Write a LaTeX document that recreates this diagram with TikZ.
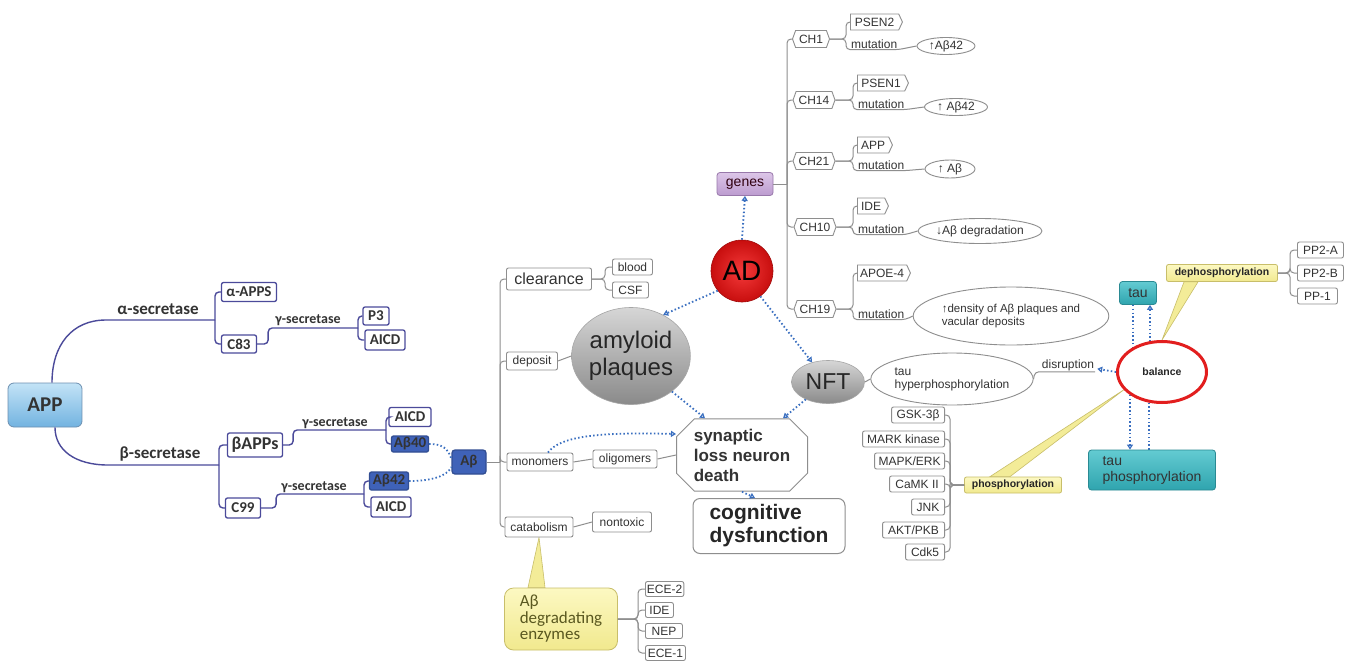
\documentclass[tikz,border=0pt]{standalone}
\usepackage{fontspec}
\setmainfont{Liberation Sans}
\newfontfamily\calfont{Carlito}
\usetikzlibrary{shapes.geometric,shapes.misc,shapes.symbols,arrows.meta,calc}
\pgfdeclarelayer{bg}
\pgfsetlayers{bg,main}
\definecolor{lnblue}{HTML}{4B4A9A}
\definecolor{boxblue}{HTML}{3F62B8}
\definecolor{dotblue}{HTML}{3A6FC0}
\definecolor{grline}{HTML}{8E8E8E}
\definecolor{txt}{HTML}{333333}
\definecolor{tealT}{HTML}{63CBD2}
\definecolor{tealB}{HTML}{2FA4AE}
\definecolor{tealD}{HTML}{2A8A93}
\definecolor{yelT}{HTML}{FCF8C2}
\definecolor{yelB}{HTML}{F1E98E}
\definecolor{yelD}{HTML}{C8BE6A}
\definecolor{purT}{HTML}{DCC6E8}
\definecolor{purB}{HTML}{BC9BCF}
\definecolor{purD}{HTML}{9878AA}
\definecolor{appT}{HTML}{C3E3F6}
\definecolor{appB}{HTML}{72B3E0}
\definecolor{appD}{HTML}{6C8FB0}
\definecolor{grT}{HTML}{D6D6D6}
\definecolor{grB}{HTML}{8A8A8A}
\definecolor{adI}{HTML}{F43A3A}
\definecolor{adO}{HTML}{C80E0E}
\definecolor{balred}{HTML}{E21E1E}
\definecolor{olivetxt}{HTML}{5A5820}
\newcommand\myfs[1]{\fontsize{#1}{#1}\selectfont}
\newcommand\mmR[3]{\draw[#1] (#2.east) -| ([xshift=-7pt]#3.west) -- (#3.west);}
\newcommand\mmL[3]{\draw[#1] (#2.west) -| ([xshift=5pt]#3.east) -- (#3.east);}
\newcommand\mmT[4]{\draw[gline] (#1.east) -| ([xshift=-4pt]#2.west) -- (#2.west);
  \draw[gline] (#1.east) -| ([xshift=-4pt]#3.south west) -- (#3.south east) -- (#4.west);}
\tikzset{
 lbox/.style={draw=lnblue, line width=1.3pt, fill=white, rounded corners=2pt, inner sep=1pt, font=\calfont\bfseries\myfs{15}, text=txt},
 lfill/.style={lbox, fill=boxblue, draw=boxblue!80!black},
 lline/.style={draw=lnblue, line width=1.4pt, rounded corners=4pt},
 llab/.style={font=\calfont\bfseries\myfs{14}, text=txt, inner sep=0pt},
 gbox/.style={draw=grline, line width=0.9pt, fill=white, rounded corners=2pt, inner sep=1.5pt, font=\myfs{12}, text=txt, minimum height=16pt},
 gline/.style={draw=grline, line width=1pt, rounded corners=4pt},
 chbox/.style={gbox, signal, signal to=east and west, signal pointer angle=140, rounded corners=0pt, minimum height=17pt},
 tagbox/.style={gbox, signal, signal to=east, signal pointer angle=130, rounded corners=0pt, anchor=west},
 gell/.style={ellipse, draw=grline, line width=0.9pt, fill=white, inner sep=0pt, font=\myfs{12}, text=txt},
 plain/.style={inner sep=1pt, font=\myfs{12}, text=txt},
 grayball/.style={ellipse, draw=gray!70, line width=0.6pt, top color=grT, bottom color=grB, inner sep=0pt, text=black!85},
 dotln/.style={draw=dotblue, line width=1.8pt, dash pattern=on 1.5pt off 2.3pt},
 dotarr/.style={dotln, -{Triangle[open,length=5pt,width=6pt,line width=1.2pt]}},
 tealbox/.style={draw=tealD, line width=0.8pt, rounded corners=3pt, top color=tealT, bottom color=tealB, text=black!80, font=\myfs{14}, inner sep=2pt},
 yelbox/.style={draw=yelD, line width=0.8pt, rounded corners=2pt, top color=yelT, bottom color=yelB, text=black!85, font=\bfseries\myfs{10.5}, inner sep=1.5pt},
 callout/.style={draw=yelD, line width=0.6pt, fill=yelB!80!yelT},
}
\begin{document}
\begin{tikzpicture}[x=1pt,y=-1pt]
\useasboundingbox (0,0) rectangle (1350,664);
\begin{pgfonlayer}{bg}\fill[white] (0,0) rectangle (1350,664);\end{pgfonlayer}

% ---------- APP branch ----------
\node[draw=appD, line width=0.8pt, rounded corners=6pt, top color=appT, bottom color=appB, minimum width=74pt, minimum height=44pt, font=\calfont\bfseries\myfs{21}, text=txt] (app) at (45,405) {APP};
\coordinate (asec) at (215,320);
\coordinate (bsec) at (219,465);
\draw[lline] ([xshift=7pt]app.north) .. controls (52,345) and (72,320) .. (110,320) -- (asec);
\node[llab, font=\calfont\bfseries\myfs{17}] (alab) at (158,309) {α-secretase};
\node[lbox, minimum width=55pt, minimum height=19pt] (aapps) at (249,292) {α-APPS};
\node[lbox, minimum width=35pt, minimum height=18pt] (c83) at (239,344) {C83};
\draw[lline] (asec) |- (aapps.west);
\draw[lline] (asec) |- (c83.west);
\coordinate (g1) at (358,328);
\draw[lline] (c83.east) -- ++(11,0) |- (g1);
\node[llab] (gl1) at (308,320) {γ-secretase};
\node[lbox, minimum width=26pt, minimum height=18pt] (p3) at (376,316) {P3};
\node[lbox, minimum width=40pt, minimum height=20pt] (aicd1) at (385,340) {AICD};
\draw[lline] (g1) |- (p3.west);
\draw[lline] (g1) |- (aicd1.west);

\draw[lline] ([xshift=10pt]app.south) .. controls (55,450) and (75,465) .. (112,465) -- (bsec);
\node[llab, font=\calfont\bfseries\myfs{17}] (blab) at (160,454) {β-secretase};
\node[lbox, font=\calfont\bfseries\myfs{18}, minimum width=55pt, minimum height=24pt] (bapps) at (255,445) {βAPPs};
\node[lbox, minimum width=35pt, minimum height=20pt] (c99) at (243,508) {C99};
\draw[lline] (bsec) |- (bapps.west);
\draw[lline] (bsec) |- (c99.west);
\coordinate (g2) at (386,430);
\draw[lline] (bapps.east) -- ++(10,0) |- (g2);
\node[llab] (gl2) at (335,423) {γ-secretase};
\node[lbox, minimum width=42pt, minimum height=19pt] (aicd2) at (410,417) {AICD};
\node[lfill, minimum width=37pt, minimum height=16pt] (ab40) at (410,444) {Aβ40};
\draw[lline] (g2) |- (aicd2.west);
\draw[lline] (g2) |- (ab40.west);
\coordinate (g3) at (364,494);
\draw[lline] (c99.east) -- ++(15,0) |- (g3);
\node[llab] (gl3) at (314,487) {γ-secretase};
\node[lfill, minimum width=39pt, minimum height=18pt] (ab42) at (389,481) {Aβ42};
\node[lbox, minimum width=40pt, minimum height=20pt] (aicd3) at (391,507) {AICD};
\draw[lline] (g3) |- (ab42.west);
\draw[lline] (g3) |- (aicd3.west);

% ---------- Abeta ----------
\node[lfill, rounded corners=3pt, minimum width=34pt, minimum height=24pt] (ab) at (469,462) {Aβ};
\draw[dotln] (ab40.east) .. controls (442,444) and (448,448) .. ([yshift=3pt]ab.west);
\draw[dotln] (ab42.east) .. controls (432,481) and (447,476) .. ([yshift=-5pt]ab.west);
\coordinate (sp) at (500,462);
\draw[gline] (ab.east) -- (sp);
\node[gbox, font=\myfs{16}, minimum width=85pt, minimum height=22pt] (clear) at (549,279) {clearance};
\node[gbox, minimum width=51pt, minimum height=18pt] (dep) at (532,361) {deposit};
\node[gbox, minimum width=66pt, minimum height=18pt] (mono) at (540,462) {monomers};
\node[gbox, minimum width=68pt, minimum height=20pt] (cat) at (539,527) {catabolism};
\foreach \n in {clear,dep,mono,cat} \draw[gline] (sp) |- (\n.west);
\node[gbox, anchor=west, minimum width=40pt] (blood) at (612,267) {blood};
\node[gbox, anchor=west, minimum width=36pt] (csf) at (612,290) {CSF};
\mmR{gline}{clear}{blood}
\mmR{gline}{clear}{csf}
\node[grayball, minimum width=113pt, minimum height=97pt, font=\fontsize{24}{27}\selectfont, align=center] (amy) at (631,356) {amyloid\\plaques};
\draw[gline] (dep.east) -- (amy.west);
\node[gbox, minimum width=64pt, minimum height=18pt] (olig) at (625,459) {oligomers};
\draw[gline] (mono.east) -- (olig.west);
\node[gbox, minimum width=59pt, minimum height=20pt] (nontox) at (622,522) {nontoxic};
\draw[gline] (cat.east) -- (nontox.west);

\node[chamfered rectangle, chamfered rectangle xsep=9pt, chamfered rectangle ysep=9pt, draw=grline, line width=1pt, fill=white, minimum width=131pt, minimum height=64pt, inner sep=1pt, font=\bfseries\fontsize{17}{20}\selectfont, text=black!80, align=left] (syn) at (742,455) {synaptic\\loss neuron\\death};
\draw[gline] (olig.east) -- (syn.west);
\node[draw=grline, line width=1pt, rounded corners=7pt, fill=white, minimum width=152pt, minimum height=55pt, font=\bfseries\fontsize{21}{23}\selectfont, text=black!85, align=left] (cog) at (769,526) {cognitive\\dysfunction};

% ---------- enzymes ----------
\node[draw=yelD, line width=0.8pt, rounded corners=9pt, top color=yelT, bottom color=yelB, minimum width=113pt, minimum height=62pt, align=left, font=\calfont\fontsize{17}{16.5}\selectfont, text=olivetxt, inner sep=2pt] (enz) at (561,619) {Aβ\\degradating\\enzymes};
\node[gbox, anchor=west, minimum width=38pt, minimum height=15pt] (ece2) at (645,589) {ECE-2};
\node[gbox, anchor=west, minimum width=28pt, minimum height=15pt] (ide2) at (645,610) {IDE};
\node[gbox, anchor=west, minimum width=37pt, minimum height=15pt] (nep) at (645,631) {NEP};
\node[gbox, anchor=west, minimum width=40pt, minimum height=15pt] (ece1) at (645,653) {ECE-1};
\foreach \n in {ece2,ide2,nep,ece1} {\mmR{gline}{enz}{\n}}

% ---------- AD & genes ----------
\node[circle, minimum size=62pt, inner sep=0pt, inner color=adI, outer color=adO, draw=adO!80!black, line width=0.6pt, font=\myfs{28}, text=black] (ad) at (742,271) {AD};
\node[draw=purD, line width=0.8pt, rounded corners=3pt, top color=purT, bottom color=purB, minimum width=56pt, minimum height=23pt, inner sep=1pt, font=\myfs{14}, text=black!75!purple] (genes) at (745,184) {genes};
\draw[dotarr] (ad.north) -- (genes.south);
\coordinate (gs) at (787,184);
\draw[gline] (genes.east) -- (gs);
\node[chbox, minimum width=37pt] (ch1) at (811,39) {CH1};
\node[chbox, minimum width=42pt] (ch14) at (814,100) {CH14};
\node[chbox, minimum width=42pt] (ch21) at (814,161) {CH21};
\node[chbox, minimum width=42pt] (ch10) at (815,227) {CH10};
\node[chbox, minimum width=42pt] (ch19) at (815,309) {CH19};
\foreach \n in {ch1,ch14,ch21,ch10,ch19} \draw[gline] (gs) |- (\n.west);

\node[tagbox, minimum width=52pt] (psen2) at (850,22) {PSEN2};
\node[plain, anchor=west] (mut1) at (850,44) {mutation};
\node[gell, minimum width=58pt, minimum height=17pt] (e1) at (946,46) {↑Aβ42};
\mmT{ch1}{psen2}{mut1}{e1}
\node[tagbox, minimum width=51pt] (psen1) at (857,83) {PSEN1};
\node[plain, anchor=west] (mut2) at (857,104) {mutation};
\node[gell, minimum width=63pt, minimum height=17pt] (e2) at (956,107) {↑ Aβ42};
\mmT{ch14}{psen1}{mut2}{e2}
\node[tagbox, minimum width=35pt] (appg) at (857,145) {APP};
\node[plain, anchor=west] (mut3) at (857,165) {mutation};
\node[gell, minimum width=50pt, minimum height=18pt] (e3) at (950,169) {↑ Aβ};
\mmT{ch21}{appg}{mut3}{e3}
\node[tagbox, minimum width=31pt] (ide) at (857,206) {IDE};
\node[plain, anchor=west] (mut4) at (857,229) {mutation};
\node[gell, minimum width=110pt, minimum height=25pt] (e4) at (980,231) {↓Aβ degradation};
\mmT{ch10}{ide}{mut4}{e4}
\node[tagbox, minimum width=53pt] (apoe) at (857,273) {APOE-4};
\node[plain, anchor=west] (mut5) at (857,314) {mutation};
\node[gell, minimum width=168pt, minimum height=58pt, align=left, font=\fontsize{11.5}{13}\selectfont] (e5) at (1011,316) {↑density of Aβ plaques and\\vacular deposits};
\mmT{ch19}{apoe}{mut5}{e5}

% ---------- NFT ----------
\node[grayball, minimum width=73pt, minimum height=43pt, font=\myfs{23}] (nft) at (828,382) {NFT};
\draw[dotarr] (ad.-54) -- (nft.129);
\draw[dotarr] (ad.219) -- (amy.52);
\draw[dotarr] (amy.-41) -- ([xshift=-37pt]syn.north);
\draw[dotarr] (nft.218) -- ([xshift=41pt]syn.north);
\draw[dotarr] ([xshift=8pt]mono.north) .. controls (560,436) and (600,432) .. ([yshift=21pt]syn.west);
\draw[dotarr] (syn.south) -- ([xshift=-14pt]cog.north);

\node[gell, minimum width=139pt, minimum height=52pt, align=left, font=\fontsize{12}{13}\selectfont] (thp) at (952,379) {tau\\hyperphosphorylation};
\draw[gline] (nft.east) -- (thp.west);
\node[plain] (disr) at (1068,365) {disruption};
\draw[gline] (thp.east) -- ([xshift=-6pt]disr.south west) -- (disr.south east);

% ---------- balance ----------
\node[ellipse, draw=balred, line width=3pt, fill=white, minimum width=89pt, minimum height=61pt, inner sep=0pt, font=\bfseries\myfs{10.5}, text=black!85] (bal) at (1162,372) {balance};
\draw[dotarr] (bal.west) -- ([yshift=3pt,xshift=2pt]disr.south east);
\node[tealbox, minimum width=37pt, minimum height=23pt] (tau) at (1138,293) {tau};
\node[tealbox, minimum width=127pt, minimum height=40pt, align=left, font=\fontsize{14}{16}\selectfont] (tp) at (1152,470) {tau\\phosphorylation};
\coordinate (t1) at ([xshift=-5pt]tau.south);
\coordinate (t2) at ([xshift=12pt]tau.south);
\coordinate (t3) at ([xshift=-22pt]tp.north);
\coordinate (t4) at ([xshift=-3pt]tp.north);

\node[yelbox, minimum width=111pt, minimum height=17pt] (deph) at (1222,273) {dephosphorylation};
\node[gbox, anchor=west, minimum width=46pt] (pp2a) at (1297,250) {PP2-A};
\node[gbox, anchor=west, minimum width=46pt] (pp2b) at (1297,273) {PP2-B};
\node[gbox, anchor=west, minimum width=40pt] (pp1) at (1297,296) {PP-1};
\foreach \n in {pp2a,pp2b,pp1} {\mmR{gline}{deph}{\n}}

\node[yelbox, minimum width=97pt, minimum height=16pt] (phos) at (1013,485) {phosphorylation};
\node[gbox, anchor=east, minimum width=53pt] (k1) at (945,415) {GSK-3β};
\node[gbox, anchor=east, minimum width=82pt] (k2) at (945,439) {MARK kinase};
\node[gbox, anchor=east, minimum width=70pt] (k3) at (945,461) {MAPK/ERK};
\node[gbox, anchor=east, minimum width=55pt] (k4) at (945,484) {CaMK II};
\node[gbox, anchor=east, minimum width=33pt] (k5) at (945,507) {JNK};
\node[gbox, anchor=east, minimum width=62pt] (k6) at (945,530) {AKT/PKB};
\node[gbox, anchor=east, minimum width=39pt] (k7) at (945,552) {Cdk5};
\foreach \n in {k1,k2,k3,k4,k5,k6,k7} {\mmL{gline}{phos}{\n}}

\begin{pgfonlayer}{bg}
\draw[dotln] (t1) -- (t1 |- bal.center);
\draw[dotarr] (t2 |- bal.center) -- (t2);
\draw[dotarr] (t3 |- bal.center) -- (t3);
\draw[dotln] (t4) -- (t4 |- bal.center);
\path[callout] ([xshift=-38pt]deph.south) -- ([xshift=-24pt]deph.south) -- (bal.north) -- cycle;
\path[callout] ([xshift=-23pt]phos.north) -- ([xshift=-3pt]phos.north) -- (bal.205) -- cycle;
\path[callout] ([xshift=-33pt]enz.north) -- ([xshift=-16pt]enz.north) -- (cat.south) -- cycle;
\end{pgfonlayer}
\end{tikzpicture}
\end{document}
